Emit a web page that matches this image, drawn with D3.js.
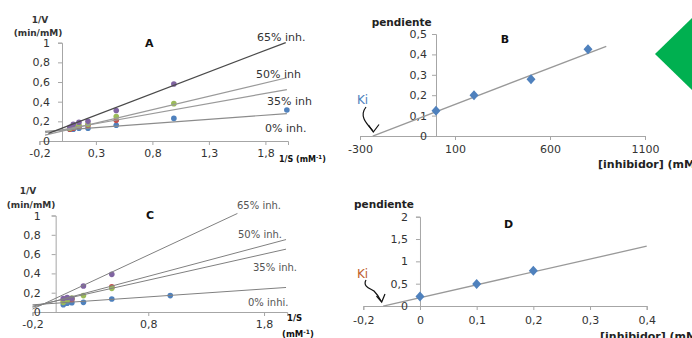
<!DOCTYPE html>
<html><head><meta charset="utf-8">
<script src="https://cdn.jsdelivr.net/npm/d3@7"></script>
<style>body{margin:0;background:#fff;} svg{display:block;font-family:"DejaVu Sans",sans-serif;}</style>
</head><body><svg id="c" width="692" height="338"></svg>
<script>
// ---------- Panel A (Lineweaver-Burk) ----------
const A_x = [0.07, 0.1, 0.15, 0.23, 0.48, 0.99, 1.99];
const A_0  = [0.12, 0.12, 0.13, 0.13, 0.16, 0.23, 0.315];
const A_35 = [0.12, 0.13, 0.15, 0.16, 0.21, null, null];
const A_50 = [0.13, 0.14, 0.16, 0.17, 0.25, 0.38, null];
const A_65 = [0.14, 0.17, 0.19, 0.20, 0.31, 0.58, null];
const A_lineNames = ["0% inh.", "35% inh", "50% inh", "65% inh."];
const A_slopes = [0.085, 0.205, 0.273, 0.44];
const A_intercepts = [0.11, 0.115, 0.10, 0.13];
const A_lineStart = [-0.15, -0.15, -0.15, -0.12];
const A_lineEnd = [1.99, 1.99, 1.99, 1.98];
const A_xTicks = [-0.2, 0.3, 0.8, 1.3, 1.8];
const A_xTickLabels = ["-0,2", "0,3", "0,8", "1,3", "1,8"];
const A_yTicks = [0, 0.2, 0.4, 0.6, 0.8, 1];
const A_yTickLabels = ["0", "0,2", "0,4", "0,6", "0,8", "1"];

// ---------- Panel B (replot of slopes) ----------
const B_inhib = [0, 200, 500, 800];
const B_slope = [0.124, 0.2, 0.278, 0.425];
const B_fit = {m: 0.000358, b: 0.119};
const B_lineRange = [-333, 896];
const B_xTicks = [-400, 100, 600, 1100];
const B_xTickLabels = ["-300", "100", "600", "1100"];
const B_yTicks = [0, 0.1, 0.2, 0.3, 0.4, 0.5];
const B_yTickLabels = ["0", "0,1", "0,2", "0,3", "0,4", "0,5"];

// ---------- Panel C ----------
const C_x = [0.066, 0.1, 0.14, 0.24, 0.485, 0.99];
const C_0  = [0.075, 0.09, 0.097, 0.10, 0.135, 0.17];
const C_35 = [0.12, 0.125, 0.13, null, 0.26, null];
const C_50 = [0.10, 0.12, 0.145, 0.17, 0.245, null];
const C_65 = [0.14, 0.15, 0.14, 0.27, 0.39, null];
const C_lineNames = ["0% inhi.", "35% inh.", "50% inh.", "65% inh."];
const C_slopes = [0.082, 0.27, 0.32, 0.56];
const C_intercepts = [0.091, 0.114, 0.114, 0.142];
const C_lineStart = [-0.2, -0.2, -0.2, -0.2];
const C_lineEnd = [1.99, 1.99, 1.99, 1.57];
const C_xTicks = [-0.2, 0.8, 1.8];
const C_xTickLabels = ["-0,2", "0,8", "1,8"];
const C_yTicks = [0, 0.2, 0.4, 0.6, 0.8, 1];
const C_yTickLabels = ["0", "0,2", "0,4", "0,6", "0,8", "1"];

// ---------- Panel D ----------
const D_inhib = [0, 0.1, 0.2];
const D_slope = [0.21, 0.49, 0.79];
const D_fit = {m: 2.88, b: 0.187};
const D_lineRange = [-0.065, 0.4];
const D_xTicks = [-0.1, 0, 0.1, 0.2, 0.3, 0.4];
const D_xTickLabels = ["-0,2", "0", "0,1", "0,2", "0,3", "0,4"];
const D_yTicks = [0, 0.5, 1, 1.5, 2];
const D_yTickLabels = ["0", "0,5", "1", "1,5", "2"];

const pointColors = ["#4f81bd", "#c0504d", "#9bbb59", "#8064a2"];

const svg = d3.select("#c");

function axes(xs, ys, xT, xL, yT, yL, o) {
  const gx = svg.append("g").attr("transform", `translate(0,${ys(0)})`)
    .call(d3.axisBottom(xs).tickValues(xT).tickFormat((d, i) => xL[i]).tickSizeOuter(0).tickSize(4).tickPadding(o.xpad));
  const gy = svg.append("g").attr("transform", `translate(${xs(0)},0)`)
    .call(d3.axisLeft(ys).tickValues(yT).tickFormat((d, i) => yL[i]).tickSizeOuter(0).tickSize(4).tickPadding(o.ypad));
  [gx, gy].forEach(g => {
    g.attr("font-family", "DejaVu Sans").attr("font-size", 11);
    g.select(".domain").attr("stroke", "#a6a6a6");
    g.selectAll(".tick line").attr("stroke", "#a6a6a6");
    g.selectAll(".tick text").attr("fill", "#333");
  });
}

function txt(x, y, s, opt = {}) {
  return svg.append("text").attr("x", x).attr("y", y).text(s)
    .attr("font-family", "DejaVu Sans")
    .attr("font-size", opt.size || 11)
    .attr("font-weight", opt.bold ? "bold" : "normal")
    .attr("fill", opt.fill || "#222")
    .attr("text-anchor", opt.anchor || "start");
}

function trend(xs, ys, m, b, x0, x1, color, w) {
  svg.append("line")
    .attr("x1", xs(x0)).attr("y1", ys(m * x0 + b))
    .attr("x2", xs(x1)).attr("y2", ys(m * x1 + b))
    .attr("stroke", color).attr("stroke-width", w);
}

function dots(xs, ys, xv, yv, color) {
  svg.append("g").selectAll("circle")
    .data(xv.map((x, i) => [x, yv[i]]).filter(d => d[1] != null))
    .join("circle")
    .attr("cx", d => xs(d[0])).attr("cy", d => ys(d[1])).attr("r", 2.8)
    .attr("fill", color);
}

function diamonds(xs, ys, xv, yv, color) {
  svg.append("g").selectAll("path")
    .data(xv.map((x, i) => [x, yv[i]]))
    .join("path")
    .attr("transform", d => `translate(${xs(d[0])},${ys(d[1])})`)
    .attr("d", "M0,-5L4.5,0L0,5L-4.5,0Z")
    .attr("fill", color);
}

function kiArrow(pathD, tip, l, r) {
  svg.append("path").attr("d", pathD).attr("fill", "none").attr("stroke", "#111").attr("stroke-width", 1.2);
  svg.append("path").attr("d", `M${l[0]},${l[1]}L${tip[0]},${tip[1]}L${r[0]},${r[1]}`)
    .attr("fill", "none").attr("stroke", "#111").attr("stroke-width", 1.2);
}

// ===== Panel A =====
{
  const xs = d3.scaleLinear().domain([-0.2, 2.0]).range([39.4, 288]);
  const ys = d3.scaleLinear().domain([0, 1]).range([141, 42.7]);
  axes(xs, ys, A_xTicks, A_xTickLabels, A_yTicks, A_yTickLabels, {xpad: 4, ypad: 8});
  [A_0, A_35, A_50, A_65].forEach((s, i) => dots(xs, ys, A_x, s, pointColors[i]));
  const lc = ["#8c8c8c", "#9a9a9a", "#9a9a9a", "#4a4a4a"];
  A_slopes.forEach((m, i) => trend(xs, ys, m, A_intercepts[i], A_lineStart[i], A_lineEnd[i], lc[i], 1.2));
  const lp = [[265, 132], [267, 105], [256, 78], [257, 41]];
  A_lineNames.forEach((n, i) => txt(lp[i][0], lp[i][1], n, {size: 11, fill: "#333"}));
  txt(145, 47, "A", {bold: true, size: 11, fill: "#111"});
  txt(40, 23, "1/V", {bold: true, size: 9, anchor: "middle", fill: "#333"});
  txt(38, 36, "(min/mM)", {bold: true, size: 9, anchor: "middle", fill: "#333"});
  const t = txt(279, 162, "1/S (mM", {bold: true, size: 8, fill: "#111"});
  t.append("tspan").attr("dy", -3).attr("font-size", 5.5).text("-1");
  t.append("tspan").attr("dy", 3).text(")");
}

// ===== Panel B =====
{
  const xs = d3.scaleLinear().domain([-400, 1100]).range([360, 645]);
  const ys = d3.scaleLinear().domain([0, 0.5]).range([136, 34]);
  axes(xs, ys, B_xTicks, B_xTickLabels, B_yTicks, B_yTickLabels, {xpad: 5, ypad: 5});
  trend(xs, ys, B_fit.m, B_fit.b, B_lineRange[0], B_lineRange[1], "#999", 1.3);
  diamonds(xs, ys, B_inhib, B_slope, "#4f81bd");
  txt(401.7, 25.5, "pendiente", {bold: true, size: 10.5, anchor: "middle", fill: "#222"});
  txt(500.7, 42.5, "B", {bold: true, size: 11, fill: "#111"});
  txt(357, 104, "Ki", {size: 12, fill: "#4f81bd"});
  kiArrow("M366,107 C359,116 366,123 373,131", [373.3, 132], [368.5, 125], [379, 124.5]);
  txt(598, 167.5, "[inhibidor] (mM)", {bold: true, size: 11, fill: "#222"});
}

// ===== Panel C =====
{
  const xs = d3.scaleLinear().domain([-0.2, 2.0]).range([32.5, 287.2]);
  const ys = d3.scaleLinear().domain([0, 1]).range([312, 215.5]);
  axes(xs, ys, C_xTicks, C_xTickLabels, C_yTicks, C_yTickLabels, {xpad: 4, ypad: 11});
  [C_0, C_35, C_50, C_65].forEach((s, i) => dots(xs, ys, C_x, s, pointColors[i]));
  C_slopes.forEach((m, i) => trend(xs, ys, m, C_intercepts[i], C_lineStart[i], C_lineEnd[i], "#808080", 1));
  const lp = [[248, 306], [253, 271], [238, 238], [237, 208.5]];
  C_lineNames.forEach((n, i) => txt(lp[i][0], lp[i][1], n, {size: 10, fill: "#555"}));
  txt(146, 219, "C", {bold: true, size: 11, fill: "#111"});
  txt(28, 194, "1/V", {bold: true, size: 9, anchor: "middle", fill: "#333"});
  txt(31, 208, "(min/mM)", {bold: true, size: 9, anchor: "middle", fill: "#333"});
  txt(287, 320.5, "1/S", {bold: true, size: 8.5, fill: "#111"});
  const t = txt(282, 337, "(mM", {bold: true, size: 8.5, fill: "#111"});
  t.append("tspan").attr("dy", -3).attr("font-size", 6).text("-1");
  t.append("tspan").attr("dy", 3).text(")");
}

// ===== Panel D =====
{
  const xs = d3.scaleLinear().domain([-0.1, 0.4]).range([363.3, 646.7]);
  const ys = d3.scaleLinear().domain([0, 2]).range([306, 216.7]);
  axes(xs, ys, D_xTicks, D_xTickLabels, D_yTicks, D_yTickLabels, {xpad: 6, ypad: 8});
  trend(xs, ys, D_fit.m, D_fit.b, D_lineRange[0], D_lineRange[1], "#999", 1.3);
  diamonds(xs, ys, D_inhib, D_slope, "#4f81bd");
  txt(384, 207.5, "pendiente", {bold: true, size: 10.5, anchor: "middle", fill: "#222"});
  txt(504, 227.5, "D", {bold: true, size: 11, fill: "#111"});
  txt(357, 277.5, "Ki", {size: 12, fill: "#c0602d"});
  kiArrow("M366,280 C362,287 372,289 374,291 C377,294 379,297 381,301", [381.7, 302], [376.5, 296], [385, 294]);
  txt(600, 340, "[inhibidor] (mM)", {bold: true, size: 11, fill: "#222"});
}

// green decorative shape at the right edge
svg.append("path").attr("d", "M655,54L692,18L729,54L692,90Z").attr("fill", "#00b050");
</script>
</body></html>
